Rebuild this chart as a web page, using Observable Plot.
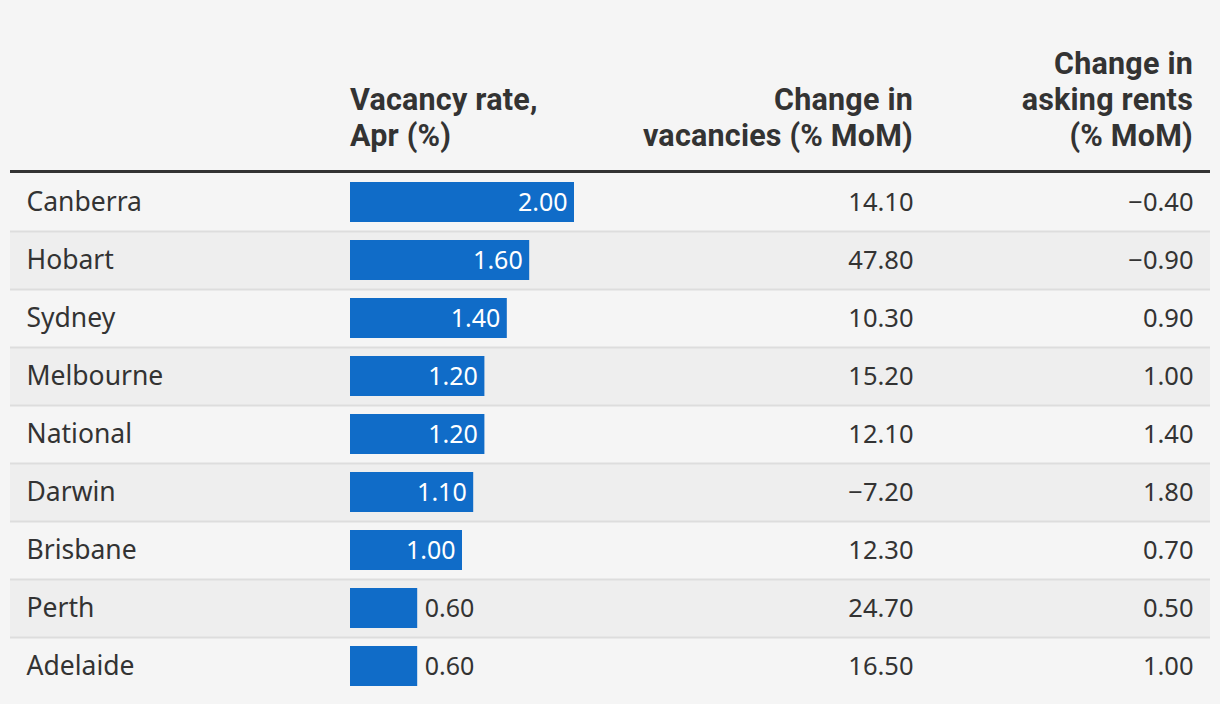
<!DOCTYPE html>
<html>
<head>
<meta charset="utf-8">
<script src="https://cdn.jsdelivr.net/npm/d3@7"></script>
<script src="https://cdn.jsdelivr.net/npm/@observablehq/plot@0.6"></script>
<style>
  html, body { margin: 0; padding: 0; background: #f5f5f5; }
  body { width: 1220px; height: 704px; overflow: hidden; font-family: "Noto Sans", sans-serif; color: #333; }
  #head { position: relative; margin-left: 10px; width: 1200px; height: 170px; border-bottom: 3px solid #333; }
  .h { position: absolute; bottom: 16px; font-family: Roboto, "Noto Sans", sans-serif; font-weight: 700; font-size: 30.5px; line-height: 36px; letter-spacing: 0.2px; color: #333; white-space: nowrap; }
  #h1 { left: 340px; text-align: left; }
  #h2 { right: 297px; text-align: right; }
  #h3 { right: 17px; text-align: right; }
  #chart svg { display: block; }
</style>
</head>
<body>
<div id="head">
  <div class="h" id="h1">Vacancy rate,<br>Apr (%)</div>
  <div class="h" id="h2">Change in<br>vacancies (% MoM)</div>
  <div class="h" id="h3">Change in<br>asking rents<br>(% MoM)</div>
</div>
<div id="chart"></div>
<script>
const cities = ["Canberra", "Hobart", "Sydney", "Melbourne", "National", "Darwin", "Brisbane", "Perth", "Adelaide"];
const vacancyRate = [2.0, 1.6, 1.4, 1.2, 1.2, 1.1, 1.0, 0.6, 0.6];
const vacancyChange = [14.1, 47.8, 10.3, 15.2, 12.1, -7.2, 12.3, 24.7, 16.5];
const rentChange = [-0.4, -0.9, 0.9, 1.0, 1.4, 1.8, 0.7, 0.5, 1.0];

const rows = cities.map((name, i) => ({name, rate: vacancyRate[i], vac: vacancyChange[i], rent: rentChange[i], i}));
const fmt = v => v.toFixed(2).replace("-", "\u2212");

const rowH = 58;
const W = 1220;
const barLeft = 350, barRight = 574; // pixel extent of the bar column (0 → 2.0)

const chart = Plot.plot({
  width: W,
  height: rowH * rows.length + 9,
  marginTop: 0,
  marginBottom: 9,
  marginLeft: 10,
  marginRight: 10,
  style: {fontFamily: "'Noto Sans', sans-serif", color: "#333", background: "#f5f5f5"},
  x: {domain: [0, 2], range: [barLeft, barRight], axis: null},
  y: {domain: cities, padding: 0, axis: null},
  color: {type: "identity"},
  marks: [
    Plot.cell(rows, {y: "name", fill: d => d.i % 2 ? "#eeeeee" : "#f5f5f5"}),
    Plot.ruleY(rows.slice(0, -1), {y: "name", dy: rowH / 2, stroke: "#dddddd", strokeWidth: 2}),
    Plot.barX(rows, {y: "name", x: "rate", fill: "#106cc8", insetTop: 9, insetBottom: 9}),
    Plot.text(rows.filter(d => d.rate >= 1), {y: "name", x: "rate", text: d => fmt(d.rate), textAnchor: "end", dx: -7, fill: "white", fontSize: 25}),
    Plot.text(rows.filter(d => d.rate < 1), {y: "name", x: "rate", text: d => fmt(d.rate), textAnchor: "start", dx: 7, fill: "#333", fontSize: 25}),
    Plot.text(rows, {y: "name", text: "name", frameAnchor: "left", dx: 16, textAnchor: "start", fill: "#333", fontSize: 26.5}),
    Plot.text(rows, {y: "name", text: d => fmt(d.vac), frameAnchor: "right", dx: -297, textAnchor: "end", fill: "#333", fontSize: 25.5}),
    Plot.text(rows, {y: "name", text: d => fmt(d.rent), frameAnchor: "right", dx: -17, textAnchor: "end", fill: "#333", fontSize: 25.5})
  ]
});
document.getElementById("chart").appendChild(chart);
</script>
</body>
</html>
